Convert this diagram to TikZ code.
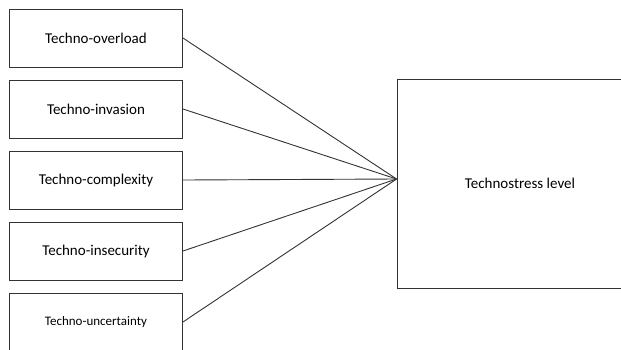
\documentclass[tikz,border=0pt]{standalone}
\usepackage{fontspec}
\setmainfont{Carlito}
\usetikzlibrary{positioning}

\begin{document}
\begin{tikzpicture}[x=1pt,y=1pt,node distance=71pt,line width=0.9pt,
    draw=black!80,
    factor/.style={draw=black!80,rectangle,minimum width=173pt,
      minimum height=58pt,inner sep=0pt,font=\fontsize{15}{18}\selectfont},
    link/.style={draw=black!80}]
  \useasboundingbox (0,0) rectangle (621,-349);
  \clip (0,0) rectangle (621,-349);
  \node[factor] (overload) at (96,-38) {Techno-overload};
  \node[factor] (invasion) [below of=overload] {Techno-invasion};
  \node[factor] (complexity) [below of=invasion] {Techno-complexity};
  \node[factor] (insecurity) [below of=complexity] {Techno-insecurity};
  \node[factor,font=\fontsize{13}{16}\selectfont] (uncertainty)
    [below of=insecurity] {Techno-uncertainty};
  \node[factor,minimum width=246pt,minimum height=209pt] (level)
    at (520,-183.5) {Technostress level};
  \coordinate (hub) at ([yshift=4.5pt]level.west);
  \path[link] (overload.east) edge (hub)
  (invasion.east) edge (hub)
  (complexity.east) edge (hub)
  (insecurity.east) edge (hub)
  (uncertainty.east) edge (hub);
\end{tikzpicture}
\end{document}
